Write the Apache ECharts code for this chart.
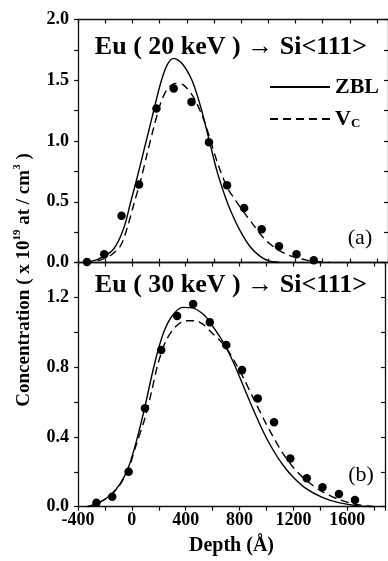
<!DOCTYPE html>
<html>
<head>
<meta charset="utf-8">
<script src="https://cdn.jsdelivr.net/npm/echarts@6/dist/echarts.min.js"></script>
<style>
  html, body { margin: 0; padding: 0; background: #fff; }
  #chart { width: 388px; height: 561px; }
</style>
</head>
<body>
<div id="chart"></div>
<script>
// panel (a): Eu 20 keV -> Si<111>
var dotDepthA = [-334, -207, -80, 49, 177, 304, 435, 563, 696, 822, 951, 1078, 1207, 1334];
var dotConcA  = [0.005, 0.068, 0.384, 0.642, 1.267, 1.432, 1.322, 0.99, 0.636, 0.449, 0.274, 0.134, 0.068, 0.019];

var zblDepthA = [-350, -255, -158, -120, -85, -50, -12, 24, 85, 146, 207, 255, 304, 365, 438, 500, 562, 620, 680, 725, 793, 866, 940, 1000, 1080];
var zblConcA  = [0, 0.025, 0.087, 0.14, 0.22, 0.33, 0.50, 0.65, 0.924, 1.20, 1.473, 1.624, 1.68, 1.638, 1.50, 1.29, 1.02, 0.76, 0.55, 0.42, 0.26, 0.13, 0.05, 0.015, 0];

var vcDepthA = [-350, -255, -158, -85, -36, 12, 61, 109, 158, 207, 255, 316, 377, 450, 520, 562, 623, 696, 760, 822, 890, 951, 1015, 1078, 1150, 1207, 1280, 1350, 1450];
var vcConcA  = [0, 0.013, 0.06, 0.142, 0.293, 0.486, 0.677, 0.897, 1.116, 1.309, 1.424, 1.473, 1.46, 1.36, 1.19, 1.05, 0.83, 0.62, 0.51, 0.41, 0.31, 0.22, 0.15, 0.10, 0.06, 0.04, 0.02, 0.008, 0];

// panel (b): Eu 30 keV -> Si<111>
var dotDepthB = [-263, -146, -24, 97, 218, 336, 455, 579, 701, 818, 935, 1056, 1177, 1299, 1416, 1538, 1657];
var dotConcB  = [0.023, 0.057, 0.2, 0.564, 0.898, 1.093, 1.162, 1.057, 0.927, 0.783, 0.621, 0.484, 0.277, 0.163, 0.111, 0.073, 0.038];

var zblDepthB = [-330, -255, -158, -85, -24, 36, 97, 146, 195, 243, 304, 377, 450, 535, 586, 684, 757, 830, 903, 976, 1049, 1122, 1195, 1292, 1414, 1536, 1682, 1800];
var zblConcB  = [0, 0.019, 0.067, 0.134, 0.229, 0.382, 0.573, 0.745, 0.898, 1.013, 1.099, 1.143, 1.14, 1.10, 1.051, 0.936, 0.822, 0.688, 0.554, 0.43, 0.325, 0.239, 0.172, 0.105, 0.054, 0.023, 0.004, 0];

var vcDepthB = [-330, -255, -158, -85, -24, 36, 97, 146, 195, 256, 330, 404, 476, 537, 586, 684, 757, 830, 903, 976, 1049, 1122, 1195, 1292, 1414, 1536, 1657, 1800];
var vcConcB  = [0, 0.019, 0.065, 0.13, 0.22, 0.363, 0.507, 0.659, 0.822, 0.955, 1.036, 1.066, 1.066, 1.041, 1.003, 0.927, 0.841, 0.736, 0.621, 0.507, 0.401, 0.306, 0.229, 0.153, 0.086, 0.042, 0.015, 0];

// axes
var depthMin = -400, depthMax = 1880, depthStep = 200, depthLabelStep = 400;
var concMaxA = 2.0, concStepA = 0.25, concLabelStepA = 0.5;
var concMaxB = 1.4, concStepB = 0.2, concLabelStepB = 0.4, concLabelTopB = 1.2;

var SERIF = '"Liberation Serif", "DejaVu Serif", serif';
var DASH = [8, 5];

function pairs(xs, ys) {
  var out = [];
  for (var i = 0; i < xs.length; i++) out.push([xs[i], ys[i]]);
  return out;
}
function isMultiple(v, step) {
  var r = v / step;
  return Math.abs(r - Math.round(r)) < 1e-6;
}

var lineAxis = { show: true, onZero: false, lineStyle: { color: '#111', width: 1.3 } };
var tickIn = { show: true, inside: true, length: 4, lineStyle: { color: '#111', width: 1.2 } };
var tickOut = { show: true, inside: false, length: 4, lineStyle: { color: '#111', width: 1.2 } };
var labelFont = { fontFamily: SERIF, fontWeight: 'bold', fontSize: 18, color: '#000' };

function xAx(grid, pos, showLabel, tick) {
  return {
    type: 'value', gridIndex: grid, position: pos,
    min: depthMin, max: depthMax, interval: depthStep,
    axisLine: lineAxis, axisTick: tick, splitLine: { show: false },
    axisLabel: Object.assign({
      show: showLabel, margin: 5,
      formatter: function (v) { return isMultiple(v, depthLabelStep) ? String(v) : ''; }
    }, labelFont),
    name: showLabel ? 'Depth (Å)' : '', nameLocation: 'middle', nameGap: 29,
    nameTextStyle: { fontFamily: SERIF, fontWeight: 'bold', fontSize: 20, color: '#000' }
  };
}
function yAx(grid, pos, max, step, labelStep, labelTop, tick) {
  return {
    type: 'value', gridIndex: grid, position: pos,
    min: 0, max: max, interval: step,
    axisLine: lineAxis, axisTick: tick, splitLine: { show: false },
    axisLabel: Object.assign({
      show: pos === 'left', margin: 9,
      formatter: function (v) {
        return (isMultiple(v, labelStep) && v <= labelTop + 1e-6) ? v.toFixed(1) : '';
      }
    }, labelFont)
  };
}

var chart = echarts.init(document.getElementById('chart'));

var option = {
  animation: false,
  backgroundColor: '#fff',
  grid: [
    { left: 78, top: 19.5, width: 312.5, height: 243 },
    { left: 78, top: 262.5, width: 312.5, height: 244.2 }
  ],
  xAxis: [
    xAx(0, 'bottom', false, tickIn),
    xAx(0, 'top', false, tickIn),
    xAx(1, 'bottom', true, tickOut),
    xAx(1, 'top', false, tickIn)
  ],
  yAxis: [
    yAx(0, 'left', concMaxA, concStepA, concLabelStepA, concMaxA, tickOut),
    yAx(0, 'right', concMaxA, concStepA, concLabelStepA, concMaxA, tickIn),
    yAx(1, 'left', concMaxB, concStepB, concLabelStepB, concLabelTopB, tickOut),
    yAx(1, 'right', concMaxB, concStepB, concLabelStepB, concLabelTopB, tickIn)
  ],
  legend: {
    left: 264, top: 71, orient: 'vertical', itemWidth: 60, itemHeight: 12, itemGap: 10,
    selectedMode: false,
    itemStyle: { opacity: 0 },
    data: ['ZBL', 'Vc'],
    formatter: function (n) { return n === 'Vc' ? '{v|V}{s|C}' : '{v|' + n + '}'; },
    textStyle: {
      rich: {
        v: { fontFamily: SERIF, fontWeight: 'bold', fontSize: 22, color: '#000' },
        s: { fontFamily: SERIF, fontWeight: 'bold', fontSize: 13, color: '#000', verticalAlign: 'bottom', padding: [10, 0, 0, 0] }
      }
    }
  },
  graphic: [
    { type: 'text', x: 231, y: 47, silent: true,
      style: { text: 'Eu ( 20 keV ) → Si<111>', fill: '#000', font: 'bold 26px ' + SERIF,
               align: 'center', verticalAlign: 'middle', textAlign: 'center', textVerticalAlign: 'middle' } },
    { type: 'text', x: 231, y: 285, silent: true,
      style: { text: 'Eu ( 30 keV ) → Si<111>', fill: '#000', font: 'bold 26px ' + SERIF,
               align: 'center', verticalAlign: 'middle', textAlign: 'center', textVerticalAlign: 'middle' } },
    { type: 'text', x: 360, y: 238, silent: true,
      style: { text: '(a)', fill: '#000', font: '22px ' + SERIF,
               align: 'center', verticalAlign: 'middle', textAlign: 'center', textVerticalAlign: 'middle' } },
    { type: 'text', x: 361, y: 475, silent: true,
      style: { text: '(b)', fill: '#000', font: '22px ' + SERIF,
               align: 'center', verticalAlign: 'middle', textAlign: 'center', textVerticalAlign: 'middle' } },
    { type: 'text', x: 24, y: 280, rotation: Math.PI / 2, silent: true,
      style: {
        text: '{n|Concentration ( x 10}{p|19}{n| at / cm}{p|3}{n| )}',
        align: 'center', verticalAlign: 'middle', textAlign: 'center', textVerticalAlign: 'middle',
        rich: {
          n: { fontFamily: SERIF, fontWeight: 'bold', fontSize: 19, fill: '#000', color: '#000', lineHeight: 24 },
          p: { fontFamily: SERIF, fontWeight: 'bold', fontSize: 11, fill: '#000', color: '#000', verticalAlign: 'top', lineHeight: 12 }
        }
      } }
  ],
  series: [
    { name: 'ZBL', type: 'line', xAxisIndex: 0, yAxisIndex: 0, data: pairs(zblDepthA, zblConcA),
      showSymbol: false, symbol: 'none', smooth: 0.3, lineStyle: { color: '#000', width: 1.4 }, itemStyle: { color: '#000' } },
    { name: 'Vc', type: 'line', xAxisIndex: 0, yAxisIndex: 0, data: pairs(vcDepthA, vcConcA),
      showSymbol: false, symbol: 'none', smooth: 0.3, lineStyle: { color: '#000', width: 1.4, type: DASH }, itemStyle: { color: '#000' } },
    { name: 'exp a', type: 'scatter', xAxisIndex: 0, yAxisIndex: 0, data: pairs(dotDepthA, dotConcA),
      symbol: 'circle', symbolSize: 8.5, itemStyle: { color: '#000', opacity: 1 } },
    { name: 'ZBL', type: 'line', xAxisIndex: 2, yAxisIndex: 2, data: pairs(zblDepthB, zblConcB),
      showSymbol: false, symbol: 'none', smooth: 0.3, lineStyle: { color: '#000', width: 1.4 }, itemStyle: { color: '#000' } },
    { name: 'Vc', type: 'line', xAxisIndex: 2, yAxisIndex: 2, data: pairs(vcDepthB, vcConcB),
      showSymbol: false, symbol: 'none', smooth: 0.3, lineStyle: { color: '#000', width: 1.4, type: DASH }, itemStyle: { color: '#000' } },
    { name: 'exp b', type: 'scatter', xAxisIndex: 2, yAxisIndex: 2, data: pairs(dotDepthB, dotConcB),
      symbol: 'circle', symbolSize: 8.5, itemStyle: { color: '#000', opacity: 1 } }
  ]
};

chart.setOption(option);
</script>
</body>
</html>
